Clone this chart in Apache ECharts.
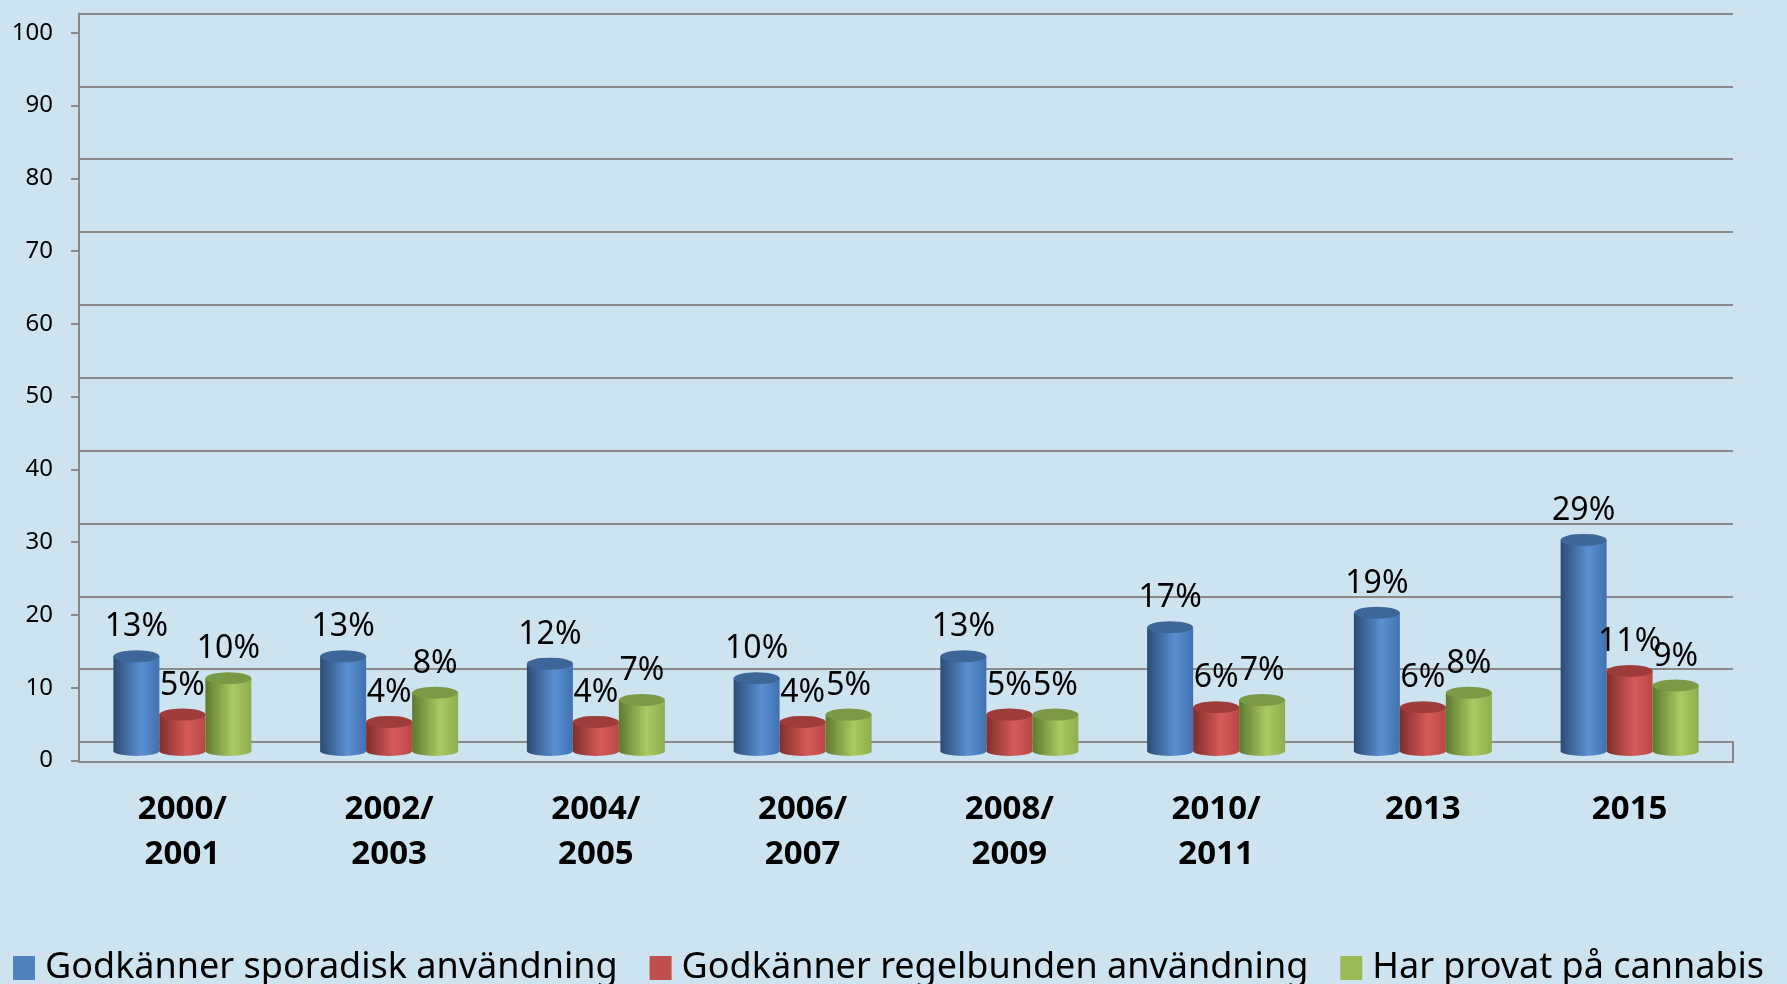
<!DOCTYPE html>
<html>
<head>
<meta charset="utf-8">
<title>Cannabis</title>
<script src="https://cdn.jsdelivr.net/npm/echarts@6/dist/echarts.min.js"></script>
<style>
html, body { margin: 0; padding: 0; background: #cde4f0; overflow: hidden; }
#main { width: 1787px; height: 984px; }
</style>
</head>
<body>
<div id="main"></div>
<script>
var categories = ['2000/\n2001', '2002/\n2003', '2004/\n2005', '2006/\n2007', '2008/\n2009', '2010/\n2011', '2013', '2015']
var sporadisk = [13, 13, 12, 10, 13, 17, 19, 29]
var regelbunden = [5, 4, 4, 4, 5, 6, 6, 11]
var provat = [10, 8, 7, 5, 5, 7, 8, 9]
var names = ['Godkänner sporadisk användning', 'Godkänner regelbunden användning', 'Har provat på cannabis']

var font = 'Noto Sans'
var lineColor = '#898989'

// cylinder look: dark left edge, light band, slightly darker right
function cyl (c) {
  return new echarts.graphic.LinearGradient(0, 0, 1, 0, [
    { offset: 0, color: c[0] },
    { offset: 0.6, color: c[1] },
    { offset: 1, color: c[2] }
  ])
}
var palette = [
  { base: '#4f81bd', shade: ['#2c4b74', '#5b8fd2', '#4072b0'], top: '#3d6699' },
  { base: '#c0504d', shade: ['#7f2e2c', '#d65b58', '#b94845'], top: '#9e3c3a' },
  { base: '#9bbb59', shade: ['#5e7a2f', '#a8cb63', '#8eae4e'], top: '#7a9a45' }
]
var values = [sporadisk, regelbunden, provat]

var series = []
values.forEach(function (v, i) {
  series.push({
    name: names[i],
    type: 'bar',
    xAxisIndex: 2,
    yAxisIndex: 2,
    barWidth: 46,
    barGap: '0%',
    data: v,
    itemStyle: { color: cyl(palette[i].shade) },
    label: {
      show: true,
      position: 'top',
      distance: 13,
      formatter: '{c}%',
      fontFamily: font,
      fontSize: 32,
      color: '#000'
    },
    z: 3
  })
  series.push({
    name: names[i],
    type: 'pictorialBar',
    xAxisIndex: 2,
    yAxisIndex: 2,
    symbol: 'circle',
    symbolSize: [46, 12],
    symbolPosition: 'end',
    symbolOffset: [0, '-50%'],
    barWidth: 46,
    barGap: '0%',
    data: v,
    itemStyle: { color: palette[i].top },
    z: 4
  })
  series.push({
    name: names[i],
    type: 'pictorialBar',
    xAxisIndex: 3,
    yAxisIndex: 2,
    symbol: 'circle',
    symbolSize: [46, 10],
    symbolPosition: 'start',
    symbolOffset: [0, '50%'],
    barWidth: 46,
    barGap: '0%',
    data: v,
    itemStyle: { color: cyl(palette[i].shade) },
    z: 2
  })
})

var myChart = echarts.init(document.getElementById('main'))
var option = {
  backgroundColor: '#cde4f0',
  animation: false,
  legend: {
    data: names.map(function (n, i) {
      return { name: n, icon: 'rect', itemStyle: { color: palette[i].base } }
    }),
    left: 8,
    right: 0,
    top: 941,
    itemWidth: 22,
    itemHeight: 24,
    itemGap: 32,
    textStyle: { fontFamily: font, fontSize: 36, lineHeight: 44, color: '#000', padding: [0, 0, 0, 5] }
  },
  grid: [
    // tick labels (front edge)
    { left: 79, right: 54, top: 32.7, bottom: 223.5 },
    // back wall gridlines
    { left: 79, right: 54, top: 13.5, bottom: 242 },
    // bars
    { left: 79, right: 54, top: 23, bottom: 233 },
    // floor
    { left: 79, right: 54, top: 742, bottom: 222 }
  ],
  xAxis: [
    { gridIndex: 0, type: 'category', data: categories, show: false },
    { gridIndex: 1, type: 'category', data: categories, show: false },
    { gridIndex: 2, type: 'category', data: categories, show: false },
    { gridIndex: 2, type: 'category', data: categories, show: false },
    {
      gridIndex: 3,
      type: 'category',
      data: categories,
      axisLine: { lineStyle: { color: lineColor, width: 2 } },
      axisTick: { length: 10, interval: 0, lineStyle: { color: lineColor, width: 2 } },
      axisLabel: {
        interval: 0,
        margin: 25,
        fontFamily: font,
        fontSize: 33,
        fontWeight: 'bold',
        lineHeight: 45,
        color: '#000'
      }
    }
  ],
  yAxis: [
    {
      gridIndex: 0,
      type: 'value',
      min: 0,
      max: 100,
      interval: 10,
      axisLine: { show: false },
      axisTick: { show: true, length: 8, lineStyle: { color: lineColor, width: 2 } },
      axisLabel: { margin: 26, fontFamily: font, fontSize: 24, color: '#000' },
      splitLine: { show: false }
    },
    {
      gridIndex: 1,
      type: 'value',
      min: 0,
      max: 100,
      interval: 10,
      axisLine: { show: true, lineStyle: { color: lineColor, width: 2 } },
      axisTick: { show: false },
      axisLabel: { show: false },
      splitLine: { show: true, lineStyle: { color: lineColor, width: 2 } }
    },
    { gridIndex: 2, type: 'value', min: 0, max: 100, show: false },
    {
      gridIndex: 3,
      type: 'value',
      position: 'left',
      axisLine: { show: true, lineStyle: { color: lineColor, width: 2 } },
      axisTick: { show: false },
      axisLabel: { show: false },
      splitLine: { show: false }
    },
    {
      gridIndex: 3,
      type: 'value',
      position: 'right',
      axisLine: { show: true, lineStyle: { color: lineColor, width: 2 } },
      axisTick: { show: false },
      axisLabel: { show: false },
      splitLine: { show: false }
    }
  ],
  series: series
}
myChart.setOption(option)
</script>
</body>
</html>
